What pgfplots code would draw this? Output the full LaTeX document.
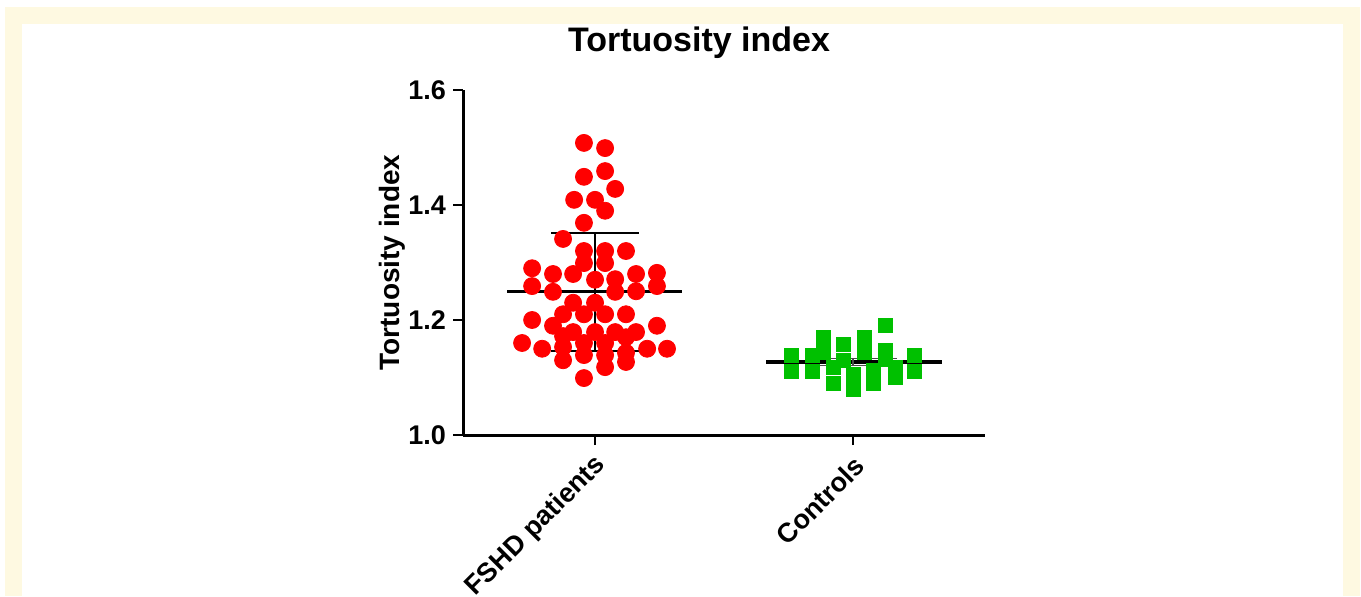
\documentclass[border=0pt]{standalone}
\usepackage{pgfplots}
\pgfplotsset{compat=1.18}
\usepackage{fontspec}
\setmainfont{Liberation Sans}
\definecolor{cream}{RGB}{254,249,225}
\definecolor{ptred}{RGB}{255,0,0}
\definecolor{ptgreen}{RGB}{0,192,0}
\begin{document}
\begin{tikzpicture}[x=0.5pt,y=0.5pt]
\useasboundingbox (0,0) rectangle (1361,596);
\fill[white] (0,0) rectangle (1361,596);
\fill[cream] (5,0) rectangle (1360,589);
\fill[white] (22,0) rectangle (1343,572);
\node[anchor=base, font=\bfseries\fontsize{17}{20}\selectfont] at (699,545) {Tortuosity index};
\begin{axis}[
  at={(231.5pt,80.5pt)}, anchor=south west,
  scale only axis, width=261pt, height=172.5pt,
  xmin=0.488, xmax=2.512, ymin=1.0, ymax=1.6,
  axis lines=left,
  axis line style={-, line width=1.5pt},
  clip=false,
  xtick={1,2}, xticklabels={FSHD patients, Controls},
  ytick={1.0,1.2,1.4,1.6},
  yticklabel style={/pgf/number format/fixed, /pgf/number format/fixed zerofill, /pgf/number format/precision=1},
  /pgf/number format/assume math mode=true,
  tick align=outside, major tick length=5pt,
  tick style={line width=1.3pt, black},
  ticklabel style={font=\bfseries\fontsize{13.5}{16}\selectfont},
  xticklabel style={rotate=45, anchor=east, yshift=-8pt, xshift=0pt},
  ylabel={Tortuosity index},
  ylabel style={font=\bfseries\fontsize{14}{16}\selectfont, at={(axis description cs:-0.136,0.5)}, anchor=center},
]
\addplot[only marks, mark=*, mark size=4.25pt, color=ptred, mark options={draw=ptred, fill=ptred}] coordinates {
(0.957,1.508) (1.039,1.499) (0.957,1.449) (1.039,1.459) (1.078,1.428)
(0.919,1.409) (1.0,1.409) (1.039,1.390) (0.957,1.369) (0.876,1.341)
(0.957,1.320) (1.039,1.320) (1.120,1.320) (0.957,1.299) (1.039,1.299)
(0.756,1.290) (0.837,1.280) (0.915,1.280) (1.0,1.270) (1.078,1.271)
(1.159,1.280) (1.240,1.282) (0.756,1.259) (0.837,1.249) (1.078,1.249)
(1.159,1.250) (1.240,1.259) (0.915,1.230) (1.0,1.230) (0.756,1.200)
(0.876,1.210) (0.957,1.210) (1.039,1.210) (1.120,1.210) (0.837,1.190)
(1.240,1.190) (0.876,1.172) (0.915,1.179) (1.0,1.179) (1.078,1.179)
(1.120,1.170) (1.159,1.179) (0.717,1.160) (0.795,1.150) (0.876,1.153)
(0.957,1.160) (1.039,1.160) (1.120,1.143) (1.202,1.150) (1.279,1.150)
(0.876,1.130) (0.957,1.139) (1.039,1.139) (1.120,1.127) (1.039,1.118)
(0.957,1.099)
};
\addplot[only marks, mark=square*, mark size=3.5pt, color=ptgreen, mark options={draw=ptgreen, fill=ptgreen}] coordinates {
(1.760,1.139) (1.760,1.111) (1.841,1.139) (1.841,1.111)
(1.884,1.169) (1.884,1.143) (1.926,1.089) (1.926,1.118)
(1.961,1.158) (1.961,1.130) (2.0,1.080) (2.0,1.105)
(2.043,1.169) (2.043,1.143) (2.081,1.089) (2.081,1.112)
(2.124,1.190) (2.124,1.148) (2.124,1.132)
(2.163,1.118) (2.163,1.101) (2.240,1.139) (2.240,1.111)
};
% FSHD mean and SD
\addplot[black, line width=1.6pt] coordinates {(0.660,1.249) (1.337,1.249)};
\addplot[black, line width=0.8pt] coordinates {(1.0,1.146) (1.0,1.351)};
\addplot[black, line width=0.8pt] coordinates {(0.83,1.351) (1.17,1.351)};
\addplot[black, line width=0.8pt] coordinates {(0.83,1.146) (1.17,1.146)};
% Controls mean and SD
\addplot[black, line width=1.6pt] coordinates {(1.663,1.127) (2.345,1.127)};
\addplot[black!70, line width=0.8pt] coordinates {(1.83,1.133) (2.17,1.133)};
\addplot[black!70, line width=0.8pt] coordinates {(1.83,1.121) (2.17,1.121)};
\addplot[black!70, line width=0.8pt] coordinates {(2.0,1.121) (2.0,1.133)};
\end{axis}
\end{tikzpicture}
\end{document}
